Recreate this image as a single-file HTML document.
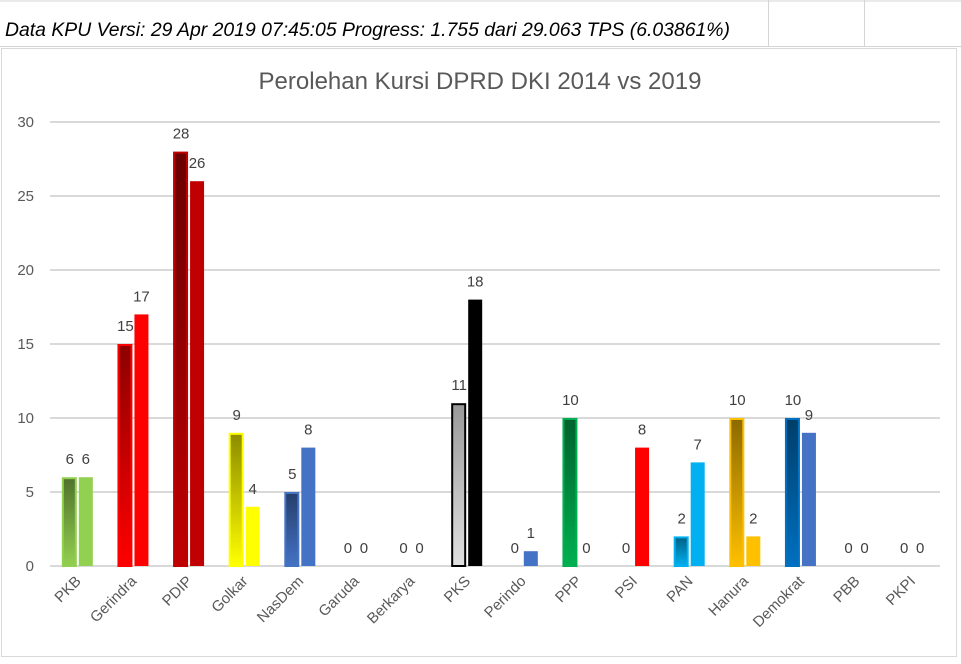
<!DOCTYPE html>
<html><head><meta charset="utf-8"><style>
body{margin:0;background:#fff;width:961px;height:659px;overflow:hidden;font-family:"Liberation Sans",sans-serif;}
</style></head><body>
<svg width="961" height="659" xmlns="http://www.w3.org/2000/svg">
<defs id="defs"></defs>
<rect x="0" y="0" width="961" height="659" fill="#fff"/>
<line x1="0" y1="1" x2="961" y2="1" stroke="#d4d4d4"/>
<line x1="0" y1="46.5" x2="961" y2="46.5" stroke="#d4d4d4"/>
<line x1="768.5" y1="0" x2="768.5" y2="46" stroke="#d4d4d4"/>
<line x1="864.5" y1="0" x2="864.5" y2="46" stroke="#d4d4d4"/>
<text x="5" y="36" font-size="19" font-style="italic" fill="#000" font-family="Liberation Sans, sans-serif" textLength="725" lengthAdjust="spacingAndGlyphs">Data KPU Versi: 29 Apr 2019 07:45:05 Progress: 1.755 dari 29.063 TPS (6.03861%)</text>
<rect x="1.5" y="48.5" width="955" height="608" fill="#fff" stroke="#d9d9d9"/>
<text x="480" y="89" font-size="24" fill="#595959" text-anchor="middle">Perolehan Kursi DPRD DKI 2014 vs 2019</text>
<g id="grid"></g><g id="bars"></g><g id="labels"></g>
</svg>
<script>
const categories=["PKB","Gerindra","PDIP","Golkar","NasDem","Garuda","Berkarya","PKS","Perindo","PPP","PSI","PAN","Hanura","Demokrat","PBB","PKPI"];
const seats2014=[6,15,28,9,5,0,0,11,0,10,0,2,10,10,0,0];
const seats2019=[6,17,26,4,8,0,0,18,1,0,8,7,2,9,0,0];
const yTicks=[0,5,10,15,20,25,30];
const colors2014=["#92d050","#ff0000","#c00000","#ffff00","#4472c4","#999","#999","#000","#4472c4","#00b050","#ff0000","#00b0f0","#ffc000","#0070c0","#999","#999"];
const colors2019=["#92d050","#ff0000","#c00000","#ffff00","#4472c4","#999","#999","#000","#4472c4","#00b050","#ff0000","#00b0f0","#ffc000","#4472c4","#999","#999"];
const NS="http://www.w3.org/2000/svg";
const x0=50,x1=940,yBase=566,yTop=122,yMax=30;
const bw=(x1-x0)/categories.length;
const yS=v=>yBase-(v/yMax)*(yBase-yTop);
const xC=i=>x0+bw*(i+0.5);
function mk(t,a,p){const e=document.createElementNS(NS,t);for(const k in a)e.setAttribute(k,a[k]);p.appendChild(e);return e;}
function shade(hex,f){let h=hex.replace('#','');if(h.length==3)h=h.split('').map(c=>c+c).join('');const n=[0,2,4].map(i=>Math.round(parseInt(h.substr(i,2),16)*f));return'#'+n.map(v=>v.toString(16).padStart(2,'0')).join('');}
const grid=document.getElementById('grid'),bars=document.getElementById('bars'),labels=document.getElementById('labels'),defs=document.getElementById('defs');
yTicks.forEach(t=>{
 const l=mk('line',{x1:x0,x2:x1,y1:yS(t),y2:yS(t),stroke:'#d9d9d9','stroke-width':2},grid);
 
 
 const tx=mk('text',{x:34,y:yS(t)+5,'font-size':15,fill:'#595959','text-anchor':'end'},grid);
 tx.textContent=t;
 
 
});
categories.forEach((c,i)=>{
 const cx=xC(i);
 const v1=seats2014[i],v2=seats2019[i];
 const g=mk('linearGradient',{id:'g'+i,x1:0,y1:0,x2:0,y2:1},defs);
 const isPKS=c==="PKS";
 mk('stop',{offset:0,'stop-color':isPKS?'#999':shade(colors2014[i],0.55)},g);
 mk('stop',{offset:1,'stop-color':isPKS?'#e0e0e0':colors2014[i]},g);
 if(v1>0){
  const r=mk('rect',{x:cx-15,y:yS(v1)+1,width:13,height:yBase-yS(v1)-1,fill:'url(#g'+i+')',stroke:colors2014[i],'stroke-width':2},bars);
  
  
 }
 if(v2>0){
  const r=mk('rect',{x:cx+1,y:yS(v2),width:14,height:yBase-yS(v2),fill:colors2019[i]},bars);
  
  
 }
 const a=mk('text',{x:cx-8,y:yS(v1)-13,'font-size':15,fill:'#404040','text-anchor':'middle'},labels);
 a.textContent=v1;
 
 
 const b=mk('text',{x:cx+8,y:yS(v2)-13,'font-size':15,fill:'#404040','text-anchor':'middle'},labels);
 b.textContent=v2;
 
 
 const cl=mk('text',{x:cx+4,y:582,'font-size':15,fill:'#595959','text-anchor':'end',transform:'rotate(-45 '+(cx+4)+' 582)'},labels);
 cl.textContent=c;
 
 
});
</script>
</body></html>
